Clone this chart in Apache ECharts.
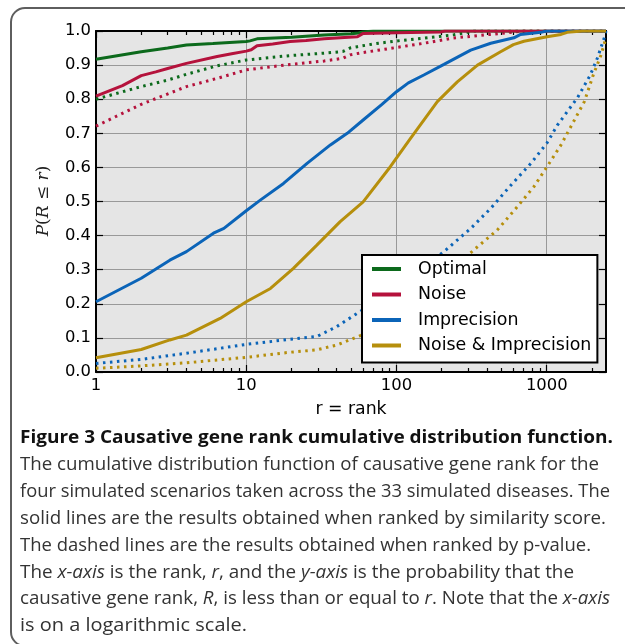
<!DOCTYPE html>
<html><head><meta charset="utf-8">
<script src="https://cdn.jsdelivr.net/npm/echarts@6/dist/echarts.min.js"></script>
<style>
html,body{margin:0;padding:0;background:#fff;width:625px;height:644px;overflow:hidden;}
#frame{position:absolute;left:10px;top:7px;width:700px;height:640px;border:2px solid #5e5e5e;border-radius:15px;box-sizing:border-box;}
#chart{position:absolute;left:0;top:0;width:625px;height:644px;}
.cap{position:absolute;left:20px;white-space:nowrap;font-family:'Open Sans';font-size:18px;line-height:20px;color:#333;transform-origin:0 50%;}
.cap.t{font-weight:bold;color:#111;}
</style></head><body>
<div id="frame"></div>
<div id="chart"></div>
<div id="caption"></div>
<script>
// ---- data (rank r, P(R<=r)) ----
const seriesNames = ['Optimal', 'Noise', 'Imprecision', 'Noise & Imprecision'];
const seriesColors = ['#0c6a1c', '#b5123c', '#0b64b8', '#b68f0c'];

// solid: ranked by similarity score
const optimalScore = [[1,0.917],[2,0.939],[3,0.950],[4,0.959],[6,0.963],[10,0.969],[10.6,0.971],[11.8,0.977],[20,0.982],[33,0.988],[50,0.992],[56,0.994],[60,0.997],[70,1.0],[2480,1.0]];
const noiseScore = [[1,0.809],[1.5,0.840],[2,0.869],[2.5,0.880],[3,0.890],[4,0.905],[6.4,0.925],[8,0.933],[10,0.941],[10.8,0.945],[11.8,0.957],[15,0.962],[19.6,0.969],[25,0.972],[33,0.977],[45,0.981],[55,0.983],[60,0.993],[100,0.995],[196,0.997],[210,1.0],[2480,1.0]];
const imprecisionScore = [[1,0.206],[2,0.275],[3.1,0.328],[4,0.353],[6.05,0.407],[7.1,0.421],[10,0.473],[12.4,0.504],[17.7,0.553],[25.4,0.612],[36.3,0.666],[47,0.700],[60,0.739],[80,0.785],[100,0.822],[120,0.848],[152,0.871],[207,0.902],[312,0.944],[424,0.964],[605,0.980],[670,0.990],[912,0.996],[1000,1.0],[2480,1.0]];
const noiseImpScore = [[1,0.042],[2,0.066],[3.1,0.094],[4,0.108],[6.7,0.157],[10,0.206],[14.5,0.245],[20.6,0.304],[29.5,0.372],[42.2,0.441],[60,0.499],[91,0.602],[124,0.685],[187,0.793],[254,0.851],[346,0.900],[493,0.939],[600,0.960],[705,0.970],[1005,0.983],[1245,0.990],[1370,0.996],[1725,1.0],[2480,1.0]];

// dotted: ranked by p-value
const optimalP = [[1,0.800],[2,0.837],[3,0.856],[4,0.873],[6.4,0.898],[10,0.915],[19.6,0.928],[33,0.935],[44,0.940],[49,0.950],[55,0.954],[70,0.962],[101,0.971],[152,0.979],[241,0.989],[296,0.996],[327,1.0],[2480,1.0]];
const noiseP = [[1,0.721],[2,0.785],[4,0.837],[6.4,0.861],[10,0.886],[19.6,0.902],[33,0.912],[44,0.920],[49,0.930],[60,0.937],[101,0.952],[152,0.964],[235,0.979],[420,0.990],[549,0.995],[700,1.0],[2480,1.0]];
const imprecisionP = [[1,0.025],[2,0.037],[4,0.055],[10,0.081],[19.6,0.096],[29.5,0.104],[40,0.133],[57,0.177],[75,0.210],[100,0.250],[150,0.305],[207,0.353],[312,0.421],[424,0.480],[578,0.548],[785,0.612],[1005,0.672],[1178,0.724],[1300,0.750],[1600,0.804],[1950,0.871],[2170,0.920],[2410,0.979],[2480,1.0]];
const noiseImpP = [[1,0.011],[2,0.018],[4,0.027],[10,0.043],[19.6,0.058],[29.5,0.065],[40,0.079],[57,0.106],[80,0.140],[120,0.190],[200,0.270],[327,0.358],[468,0.416],[638,0.485],[820,0.543],[1005,0.602],[1245,0.666],[1370,0.700],[1780,0.793],[2040,0.871],[2300,0.930],[2480,0.980]];

const scoreSeries = [optimalScore, noiseScore, imprecisionScore, noiseImpScore];
const pvalueSeries = [optimalP, noiseP, imprecisionP, noiseImpP];

const xMin = 1, xMax = 2480;
const xMajorTicks = [1, 10, 100, 1000];
const xMinorTicks = [2,3,4,5,6,7,8,9,20,30,40,50,60,70,80,90,200,300,400,500,600,700,800,900,2000];
const yMin = 0, yMax = 1, yStep = 0.1;
const xAxisTitle = 'r = rank';

const captionLines = [
  'Figure 3 Causative gene rank cumulative distribution function.',
  'The cumulative distribution function of causative gene rank for the',
  'four simulated scenarios taken across the 33 simulated diseases. The',
  'solid lines are the results obtained when ranked by similarity score.',
  'The dashed lines are the results obtained when ranked by p-value.',
  'The *x-axis* is the rank, *r*, and the *y-axis* is the probability that the',
  'causative gene rank, *R*, is less than or equal to *r*. Note that the *x-axis*',
  'is on a logarithmic scale.'
];
const captionWidths = [593, 579, 590, 586, 571, 554, 590, 227];

// ---- chart ----
const font = 'DejaVu Sans';
function xAx(position, ticks, len, main) {
  return {
    type: 'log', logBase: 10, min: xMin, max: xMax, position: position,
    axisLine: { show: main, onZero: false, lineStyle: { color: '#000', width: 2 } },
    axisTick: { show: true, inside: true, length: len, customValues: ticks, lineStyle: { color: '#000', width: 1.2 } },
    axisLabel: { show: main && position === 'bottom', customValues: xMajorTicks, margin: 6, color: '#000', fontSize: 16.4, fontFamily: font,
      formatter: v => String(Math.round(v)) },
    splitLine: { show: main && position === 'bottom', lineStyle: { color: '#999', width: 1 } },
    name: (main && position === 'bottom') ? xAxisTitle : '',
    nameLocation: 'middle', nameGap: 29,
    nameTextStyle: { color: '#000', fontSize: 17.3, fontFamily: font }
  };
}
function yAx(position, main) {
  return {
    type: 'value', min: yMin, max: yMax, interval: yStep, position: position,
    axisLine: { show: true, onZero: false, lineStyle: { color: '#000', width: 2 } },
    axisTick: { show: true, inside: true, length: 7, lineStyle: { color: '#000', width: 1.2 } },
    axisLabel: { show: main, margin: 5, color: '#000', fontSize: 16.4, fontFamily: font, formatter: v => v.toFixed(1) },
    splitLine: { show: main, lineStyle: { color: '#999', width: 1 } }
  };
}

const series = [];
scoreSeries.forEach((d, i) => series.push({
  name: seriesNames[i], type: 'line', data: d, xAxisIndex: 0, yAxisIndex: 0,
  symbol: 'none', showSymbol: false, color: seriesColors[i], clip: true,
  lineStyle: { width: 3, color: seriesColors[i] }, z: 3
}));
pvalueSeries.forEach((d, i) => series.push({
  name: seriesNames[i] + ' (p-value)', type: 'line', data: d, xAxisIndex: 0, yAxisIndex: 0,
  symbol: 'none', showSymbol: false, color: seriesColors[i], clip: true,
  lineStyle: { width: 3, color: seriesColors[i], type: [2.5, 4.5] }, z: 2
}));

const chart = echarts.init(document.getElementById('chart'), null, { renderer: 'canvas' });
chart.setOption({
  animation: false,
  backgroundColor: 'transparent',
  grid: { left: 96, top: 31, width: 510, height: 341, show: true, backgroundColor: '#e5e5e5', borderWidth: 0, containLabel: false, outerBoundsMode: 'none' },
  xAxis: [xAx('bottom', xMajorTicks, 7, true), xAx('bottom', xMinorTicks, 4, false), xAx('top', xMajorTicks, 7, true), xAx('top', xMinorTicks, 4, false)],
  yAxis: [yAx('left', true), yAx('right', false)],
  legend: {
    data: seriesNames, orient: 'vertical', left: 362, top: 255, selectedMode: false,
    backgroundColor: '#fff', borderColor: '#000', borderWidth: 2, borderRadius: 0,
    padding: [4, 6, 7, 10], itemWidth: 29, itemHeight: 4, itemGap: 5.5, icon: 'rect',
    textStyle: { color: '#000', fontSize: 17.4, fontFamily: font, lineHeight: 20, padding: [0, 0, 0, 12] }
  },
  graphic: [{
    type: 'text', x: 44, y: 201, rotation: Math.PI / 2,
    style: {
      text: '{i|P}{n|(}{i|R}{n| ≤ }{i|r}{n|)}', align: 'center', verticalAlign: 'middle',
      rich: {
        i: { fontStyle: 'italic', fontFamily: 'DejaVu Serif', fontSize: 17, fill: '#222' },
        n: { fontFamily: 'DejaVu Serif', fontSize: 17, fill: '#222' }
      }
    }
  }],
  series: series
});

// ---- caption ----
const cap = document.getElementById('caption');
captionLines.forEach((line, i) => {
  const div = document.createElement('div');
  div.className = 'cap' + (i === 0 ? ' t' : '');
  div.style.top = (426 + i * 26.9) + 'px';
  line.split('*').forEach((seg, k) => {
    if (!seg) return;
    const s = document.createElement('span');
    s.textContent = seg;
    if (k % 2 === 1) s.style.fontStyle = 'italic';
    div.appendChild(s);
  });
  cap.appendChild(div);
  const w = div.getBoundingClientRect().width;
  div.style.transform = 'scaleX(' + (captionWidths[i] / w) + ')';
});
</script>
</body></html>
